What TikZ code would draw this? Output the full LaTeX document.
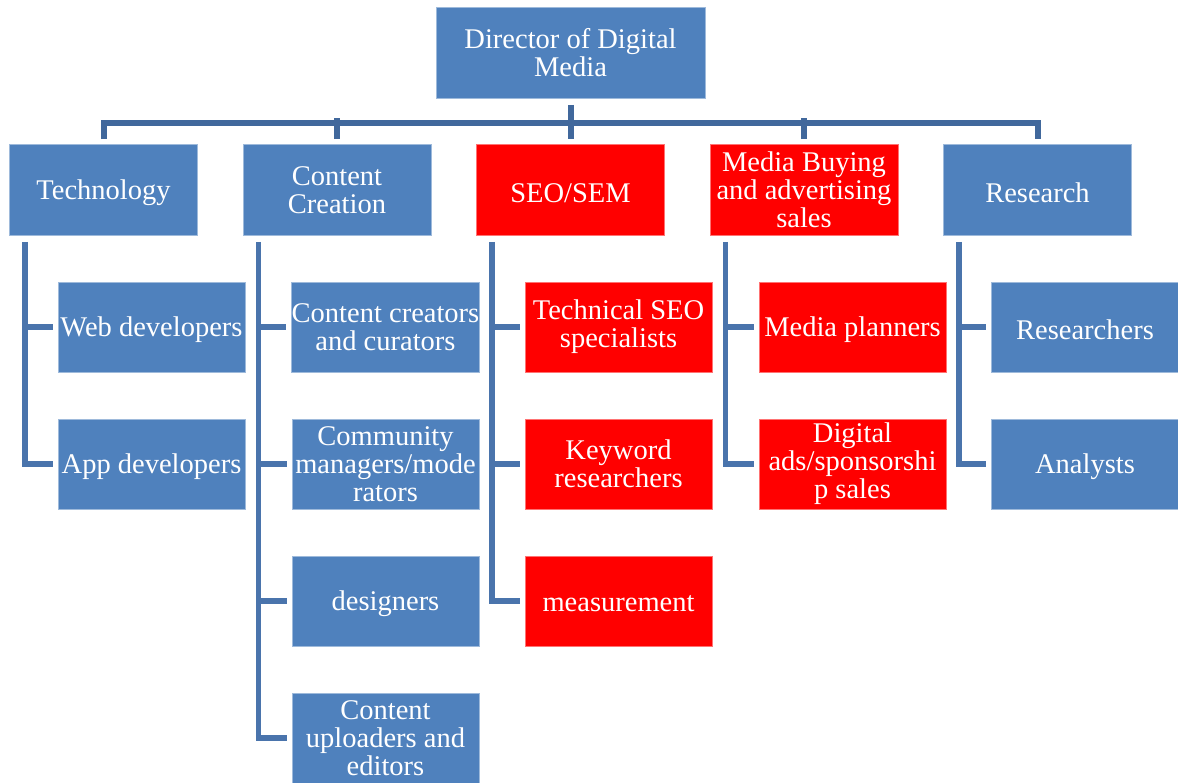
\documentclass[tikz,border=0pt]{standalone}
\usepackage{fontspec}
\setmainfont{Liberation Serif}
\usetikzlibrary{calc}
\definecolor{boxblue}{HTML}{4F81BD}
\definecolor{boxred}{HTML}{FF0000}
\definecolor{barcol}{HTML}{41689C}
\definecolor{subcol}{HTML}{4A74AC}
\newcommand{\lowr}[1]{\raisebox{-3pt}[\height][\depth]{#1}}
\tikzset{
  bluebox/.style={rectangle, fill=boxblue, draw=boxblue!55!white, line width=0.8pt, text=white,
    align=center, inner sep=0pt, minimum width=187pt, minimum height=90pt,
    font=\fontsize{28.5}{28}\selectfont},
  redbox/.style={bluebox, fill=boxred, draw=boxred!55!white},
  topbox/.style={minimum width=188pt, minimum height=91pt},
  topconn/.style={draw=barcol, line width=6pt, line join=miter},
  subconn/.style={draw=subcol, line width=5.5pt, line join=miter}
}
\begin{document}
\begin{tikzpicture}[x=1pt,y=-1pt]
\useasboundingbox (0,0) rectangle (1178,782);
% director
\node[bluebox, minimum width=269pt, minimum height=91pt] (dir) at (570.5,53) {Director of Digital\\Media};
% level 1
\node[bluebox, topbox] (tech) at (103.5,190) {\lowr{Technology}};
\node[bluebox, topbox] (cont) at (337,190) {Content\\Creation};
\node[redbox, topbox] (seo) at (570.5,190) {\lowr{SEO/SEM}};
\node[redbox, topbox] (med) at (804,190) {Media Buying\\and advertising\\sales};
\node[bluebox, topbox] (res) at (1037.5,190) {\lowr{Research}};
% level 2
\node[bluebox] (web) at (151.5,327) {\lowr{Web developers}};
\node[bluebox] (app) at (151.5,464) {\lowr{App developers}};
\node[bluebox] (cc1) at (385.5,327) {Content creators\\and curators};
\node[bluebox] (cc2) at (385.5,464) {Community\\managers/mode\\rators};
\node[bluebox] (cc3) at (385.5,601) {\lowr{designers}};
\node[bluebox] (cc4) at (385.5,738) {Content\\uploaders and\\editors};
\node[redbox] (se1) at (618.5,327) {Technical SEO\\specialists};
\node[redbox] (se2) at (618.5,464) {Keyword\\researchers};
\node[redbox] (se3) at (618.5,601) {\lowr{measurement}};
\node[redbox] (me1) at (852.5,327) {\lowr{Media planners}};
\node[redbox] (me2) at (852.5,464) {Digital\\ads/sponsorshi\\p sales};
\node[bluebox] (re1) at (1085,327) {\lowr{Researchers}};
\node[bluebox] (re2) at (1085,464) {\lowr{Analysts}};
% top connectors
\coordinate (bar) at ([yshift=-24pt]dir.south);
\draw[topconn] ([yshift=5pt]tech.north) |- (bar) -| ([yshift=5pt]res.north);
\draw[topconn] ([yshift=-6pt]dir.south) -- ([yshift=5pt]seo.north);
\draw[topconn] ([yshift=5pt]cont.north) -- ([yshift=5pt]cont.north |- bar);
\draw[topconn] ([yshift=5pt]med.north) -- ([yshift=5pt]med.north |- bar);
% sub connectors
\draw[subconn] ([xshift=16pt,yshift=-6pt]tech.south west) |- ([xshift=-5pt]app.west);
\draw[subconn] ([xshift=16pt]tech.south west |- web.west) -- ([xshift=-5pt]web.west);
\draw[subconn] ([xshift=16pt,yshift=-6pt]cont.south west) |- ([xshift=-5pt]cc4.west);
\foreach \c in {cc1,cc2,cc3}
  \draw[subconn] ([xshift=16pt]cont.south west |- \c.west) -- ([xshift=-5pt]\c.west);
\draw[subconn] ([xshift=16pt,yshift=-6pt]seo.south west) |- ([xshift=-5pt]se3.west);
\foreach \c in {se1,se2}
  \draw[subconn] ([xshift=16pt]seo.south west |- \c.west) -- ([xshift=-5pt]\c.west);
\draw[subconn] ([xshift=16pt,yshift=-6pt]med.south west) |- ([xshift=-5pt]me2.west);
\draw[subconn] ([xshift=16pt]med.south west |- me1.west) -- ([xshift=-5pt]me1.west);
\draw[subconn] ([xshift=16pt,yshift=-6pt]res.south west) |- ([xshift=-5pt]re2.west);
\draw[subconn] ([xshift=16pt]res.south west |- re1.west) -- ([xshift=-5pt]re1.west);
\end{tikzpicture}
\end{document}
